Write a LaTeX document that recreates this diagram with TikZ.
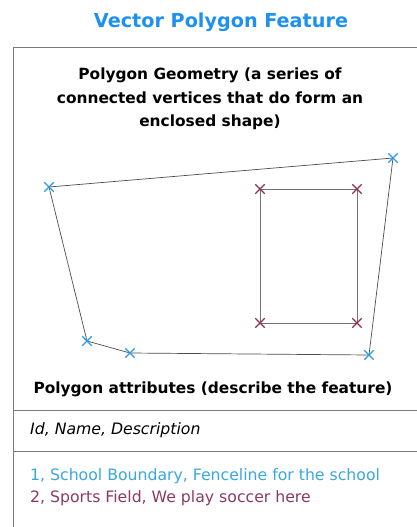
\documentclass[tikz,border=0pt]{standalone}
\usepackage{fontspec}
\setmainfont{DejaVu Sans}
\usetikzlibrary{shapes.misc, backgrounds}
\definecolor{coltitle}{HTML}{1E90F0}
\definecolor{colouter}{HTML}{2A9AE6}
\definecolor{colinner}{HTML}{8E2F52}
\definecolor{colrow}{HTML}{3AA6E2}
\definecolor{colrowtwo}{HTML}{8A3A62}
\definecolor{colframe}{HTML}{7A7A7A}
\tikzset{
    title text/.style={font=\bfseries\fontsize{19.2}{22}\selectfont, text=coltitle},
    head text/.style={font=\bfseries\fontsize{15.4}{23.5}\selectfont, align=center},
    body text/.style={font=\fontsize{15.7}{22}\selectfont, anchor=west, inner sep=0pt},
    vertex/.style={cross out, draw, line width=1.4pt, minimum size=8pt, inner sep=0pt},
    outer vertex/.style={vertex, draw=colouter},
    inner vertex/.style={vertex, draw=colinner},
    ring edge/.style={draw=black!70, line width=0.7pt},
    field edge/.style={draw=black!55, line width=0.9pt},
    frame line/.style={draw=colframe, semithick},
}

\begin{document}
\begin{tikzpicture}[x=1pt, y=-1pt]

\useasboundingbox (0, 0) rectangle (417, 527);

% ===== FRAME =====
\draw[frame line] (417, 47) -- (13, 47) -- (13, 527);
\draw[frame line] (13, 410) -- (417, 410);
\draw[frame line] (13, 451) -- (417, 451);

% ===== TEXT =====
\node[title text] (title) at (221, 22) {Vector Polygon Feature};
\node[head text] (geomhead) at (210, 99) {Polygon Geometry (a series of\\connected vertices that do form an\\enclosed shape)};
\node[head text] (attrhead) at (213, 389) {Polygon attributes (describe the feature)};
\node[body text, font=\itshape\fontsize{15.7}{18}\selectfont] (fields) at (30, 430) {Id, Name, Description};
\node[body text, text=colrow] (rowone) at (30, 476) {1, School Boundary, Fenceline for the school};
\node[body text, text=colrowtwo] (rowtwo) at (30, 498) {2, Sports Field, We play soccer here};

% ===== VERTICES =====
\node[outer vertex] (sA) at (49, 187) {};
\node[outer vertex] (sB) at (393, 158) {};
\node[outer vertex] (sC) at (369, 355) {};
\node[outer vertex] (sD) at (130, 353) {};
\node[outer vertex] (sE) at (87, 341) {};
\node[inner vertex] (fA) at (260, 189) {};
\node[inner vertex] (fB) at (357, 189) {};
\node[inner vertex] (fC) at (357, 323) {};
\node[inner vertex] (fD) at (260, 323) {};

% ===== EDGES =====
\begin{scope}[on background layer]
\draw[ring edge] (sA.center) -- (sB.center) -- (sC.center) -- (sD.center) -- (sE.center) -- (sA.center);
\draw[field edge] (fA.center) -- (fB.center) -- (fC.center) -- (fD.center) -- (fA.center);
\end{scope}

\end{tikzpicture}
\end{document}
